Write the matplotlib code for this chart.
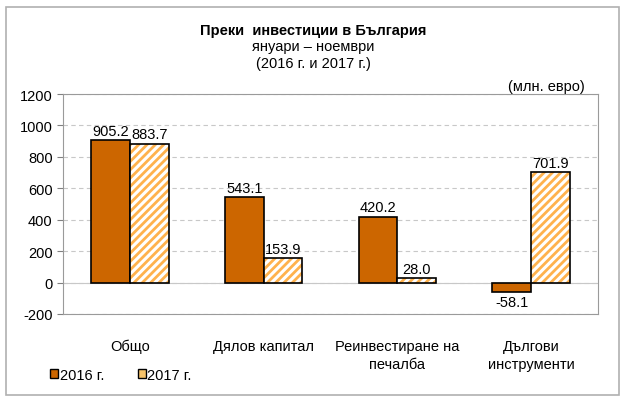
import numpy as np
import matplotlib.pyplot as plt
from matplotlib.patches import Rectangle, Patch

plt.rcParams['font.family'] = ['Liberation Sans', 'DejaVu Sans']
plt.rcParams['hatch.linewidth'] = 2.0
plt.rcParams['axes.unicode_minus'] = False

categories = ["Общо", "Дялов капитал", "Реинвестиране на\nпечалба", "Дългови\nинструменти"]
values_2016 = [905.2, 543.1, 420.2, -58.1]
values_2017 = [883.7, 153.9, 28.0, 701.9]
labels_2016 = ["905.2", "543.1", "420.2", "-58.1"]
labels_2017 = ["883.7", "153.9", "28.0", "701.9"]

fs = 10.5

fig = plt.figure(figsize=(6.27, 4.02), dpi=100)
# рамка около графиката
fig.patches.append(Rectangle((0.01, 0.015), 0.978, 0.965, transform=fig.transFigure,
                             fill=False, edgecolor="#b0b0b0", linewidth=1.2))

ax = fig.add_axes([63 / 627, 1 - 315 / 402, 535 / 627, 220 / 402])

x = np.arange(len(categories))
w = 0.29
b1 = ax.bar(x - w / 2, values_2016, w, color="#cc6600", edgecolor="black", linewidth=1.2,
            zorder=3)
b2 = ax.bar(x + w / 2, values_2017, w, color="white", edgecolor="#ffb24d", hatch="////",
            linewidth=0, zorder=3)
for r in b2:
    ax.add_patch(Rectangle(r.get_xy(), r.get_width(), r.get_height(), fill=False,
                           edgecolor="black", linewidth=1.2, zorder=4))

for xi, v, s in zip(x - w / 2, values_2016, labels_2016):
    ax.text(xi, v + (15 if v >= 0 else -20), s, ha="center", va="bottom" if v >= 0 else "top",
            fontsize=fs)
for xi, v, s in zip(x + w / 2, values_2017, labels_2017):
    ax.text(xi, v + 15, s, ha="center", va="bottom", fontsize=fs)

ax.set_xlim(-0.5, 3.5)
ax.set_ylim(-200, 1200)
ax.set_yticks(np.arange(-200, 1201, 200))
ax.tick_params(axis="y", labelsize=fs, length=4, color="#808080")
ax.tick_params(axis="x", length=0, labelsize=fs, pad=18)
ax.set_xticks(x)
ax.set_xticklabels(categories, linespacing=1.35)
ax.grid(axis="y", linestyle=(0, (4, 3)), color="#c8c8c8", linewidth=0.8, zorder=0)
ax.axhline(0, color="#c8c8c8", linewidth=0.8, zorder=1)
for sp in ax.spines.values():
    sp.set_color("#9a9a9a")

fig.text(0.5, 1 - 31 / 402, "Преки  инвестиции в България", ha="center", va="center",
         fontsize=fs, fontweight="bold")
fig.text(0.5, 1 - 47 / 402, "януари – ноември", ha="center", va="center", fontsize=fs)
fig.text(0.5, 1 - 64 / 402, "(2016 г. и 2017 г.)", ha="center", va="center", fontsize=fs)
fig.text(585 / 627, 1 - 87 / 402, "(млн. евро)", ha="right", va="center", fontsize=fs)

h1 = Patch(facecolor="#cc6600", edgecolor="black", linewidth=1.0, label="2016 г.")
h2 = Patch(facecolor="#f7c46a", edgecolor="black", linewidth=1.0, label="2017 г.")
fig.legend(handles=[h1, h2], loc="center left", bbox_to_anchor=(37 / 627, 1 - 376 / 402),
           ncol=2, frameon=False, fontsize=fs, handlelength=0.55, handleheight=0.55,
           handletextpad=0.1, columnspacing=2.3)

fig.savefig("out.png", dpi=100)
